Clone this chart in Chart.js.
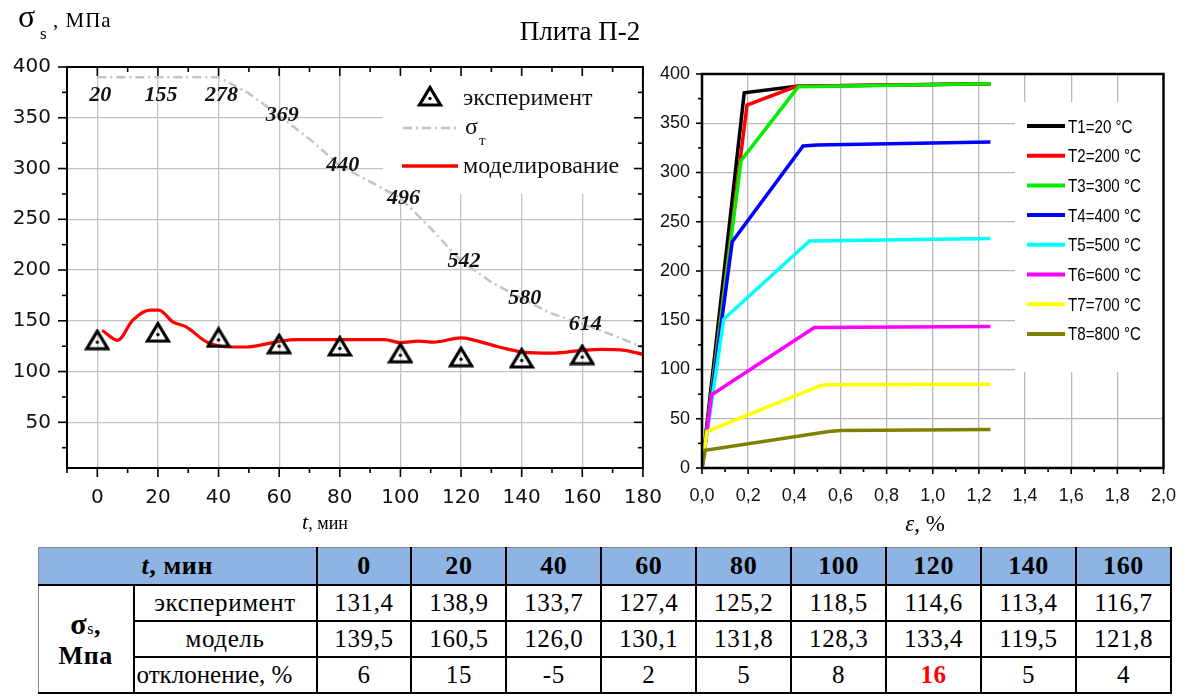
<!DOCTYPE html>
<html>
<head>
<meta charset="utf-8">
<script src="https://cdn.jsdelivr.net/npm/chart.js@4.4.0/dist/chart.umd.min.js"></script>
<style>
body { margin: 0; background: #fff; width: 1193px; height: 697px; overflow: hidden; position: relative; font-family: "Liberation Serif", "Times New Roman", serif; }
canvas { position: absolute; top: 0; }
#left { left: 0; }
#right { left: 640px; }
.txt { position: absolute; white-space: nowrap; line-height: 1; color: #000; }
#tbl { position: absolute; left: 38px; top: 547px; border-collapse: collapse; table-layout: fixed; width: 1134px; font-family: "Liberation Serif", serif; }
#tbl td { border: 2px solid #000; text-align: center; padding: 0; font-size: 25px; letter-spacing: 0.6px; height: 34px; }
#tbl tr.hd td { background: #8db4e2; font-weight: bold; font-size: 26px; height: 36px; border-top: 1px solid #888; }
#tbl td.thin { border-bottom: 1px solid #000; }
#tbl td.first { border-left: 1px solid #888; font-weight: bold; font-size: 26px; }
#tbl td.red { color: #f00; font-weight: bold; }
</style>
</head>
<body>
<canvas id="left" width="680" height="540"></canvas>
<canvas id="right" width="553" height="540"></canvas>

<div class="txt" style="left:18px;top:0px;font-size:32px;">σ</div>
<div class="txt" style="left:40px;top:25px;font-size:17px;">s</div>
<div class="txt" style="left:53px;top:10px;font-size:21px;letter-spacing:1px;">, МПа</div>
<div class="txt" style="left:430px;top:18px;width:300px;text-align:center;font-size:27px;">Плита П-2</div>
<div class="txt" style="left:225px;top:511px;width:200px;text-align:center;font-size:22px;"><i>t</i><span style="font-size:18px">, мин</span></div>
<div class="txt" style="left:825px;top:512px;width:200px;text-align:center;font-size:23px;"><i>ε</i>, %</div>

<table id="tbl"></table>

<script>
// left chart: sigma_s vs time
const timeTicks = [0, 20, 40, 60, 80, 100, 120, 140, 160];
const expStress = [131.4, 138.9, 133.7, 127.4, 125.2, 118.5, 114.6, 113.4, 116.7];
const modelStress = [139.5, 160.5, 126.0, 130.1, 131.8, 128.3, 133.4, 119.5, 121.8];
const deviation = [6, 15, -5, 2, 5, 8, 16, 5, 4];
const tempLabels = ['20', '155', '278', '369', '440', '496', '542', '580', '614'];

const sigmaTTime = [0, 10, 20, 30, 40, 50, 60, 70, 80, 90, 100, 110, 120, 130, 140, 150, 160, 170, 180];
const sigmaTStress = [390, 390, 390, 390, 390, 374, 352, 329, 303, 287, 271, 241, 209, 188, 172, 157, 147, 136, 124];

const modelCurveTime = [1.6, 6.7, 11.7, 17.4, 20.3, 24.9, 29.3, 36.2, 44.4, 49.4, 60, 65.8, 80, 94.7, 100, 106, 111, 120, 123.6, 132.5, 140.4, 150, 160, 166.4, 174, 180];
const modelCurveStress = [140.7, 130.8, 150.7, 160.6, 160.6, 149, 144, 129, 124.2, 124.2, 129.8, 131.5, 131.5, 131.5, 128.5, 130, 129, 133.1, 131.5, 124.2, 119.2, 118.2, 120.9, 121.9, 120.9, 116.9];

const timeAxisTicks = [0, 20, 40, 60, 80, 100, 120, 140, 160, 180];
const stressAxisTicks = [50, 100, 150, 200, 250, 300, 350, 400];

// right chart: stress-strain curves
const strainAxisTicks = [0, 0.2, 0.4, 0.6, 0.8, 1.0, 1.2, 1.4, 1.6, 1.8, 2.0];
const curveNames = ['T1=20 °C', 'T2=200 °C', 'T3=300 °C', 'T4=400 °C', 'T5=500 °C', 'T6=600 °C', 'T7=700 °C', 'T8=800 °C'];
const strainT1 = [0, 0.183, 0.41, 1.25];
const stressT1 = [0, 381, 387.5, 390];
const strainT2 = [0, 0.195, 0.41, 1.25];
const stressT2 = [0, 368.5, 387.5, 390];
const strainT3 = [0, 0.169, 0.417, 1.25];
const stressT3 = [0, 312, 387, 390];
const strainT4 = [0, 0.131, 0.438, 0.5, 1.25];
const stressT4 = [0, 229.8, 327, 328, 331];
const strainT5 = [0, 0.094, 0.466, 1.25];
const stressT5 = [0, 151, 230.5, 233];
const strainT6 = [0, 0.042, 0.487, 1.25];
const stressT6 = [0, 74.3, 142.6, 143.6];
const strainT7 = [0, 0.021, 0.515, 0.55, 1.25];
const stressT7 = [0, 37, 83.8, 84.5, 85];
const strainT8 = [0, 0.014, 0.55, 0.6, 1.25];
const stressT8 = [0, 17.9, 37, 38, 39];

const curveColors = ['#000000', '#ff0000', '#00ee00', '#0000ff', '#00ffff', '#ff00ff', '#ffff00', '#808000'];
const curveStrains = [strainT1, strainT2, strainT3, strainT4, strainT5, strainT6, strainT7, strainT8];
const curveStresses = [stressT1, stressT2, stressT3, stressT4, stressT5, stressT6, stressT7, stressT8];

const zip = (xs, ys) => xs.map((x, i) => ({ x: x, y: ys[i] }));

function makeTriangle() {
    const c = document.createElement('canvas');
    c.width = 26; c.height = 22;
    const g = c.getContext('2d');
    g.strokeStyle = '#000';
    g.lineWidth = 3.2;
    g.beginPath();
    g.moveTo(13, 2.5); g.lineTo(23.5, 20); g.lineTo(2.5, 20); g.closePath();
    g.stroke();
    g.fillStyle = '#000';
    g.beginPath(); g.arc(13, 13.5, 1.7, 0, Math.PI * 2); g.fill();
    return c;
}
const triangle = makeTriangle();

// frame + minor/major ticks
const frameTicks = {
    id: 'frameTicks',
    afterDraw(chart, args, o) {
        const { ctx, chartArea: a, scales } = chart;
        ctx.save();
        ctx.strokeStyle = '#000';
        ctx.lineWidth = o.frame;
        ctx.strokeRect(a.left, a.top, a.right - a.left, a.bottom - a.top);
        ctx.lineWidth = 1.6;
        const line = (x1, y1, x2, y2) => { ctx.beginPath(); ctx.moveTo(x1, y1); ctx.lineTo(x2, y2); ctx.stroke(); };
        const nx = Math.round((o.xMax - o.xFrom) / o.xStep);
        for (let i = 0; i <= nx; i++) {
            const v = o.xFrom + i * o.xStep;
            const px = scales.x.getPixelForValue(v);
            const len = (i % 2 === o.xMajorParity) ? o.major : o.minor;
            line(px, a.bottom, px, a.bottom + len);
            if (o.mirror) line(px, a.top, px, a.top + len);
        }
        const ny = Math.round((o.yMax - o.yFrom) / o.yStep);
        for (let i = 0; i <= ny; i++) {
            const v = o.yFrom + i * o.yStep;
            const py = scales.y.getPixelForValue(v);
            const len = (i % 2 === o.yMajorParity) ? o.major : o.minor;
            line(a.left - len, py, a.left, py);
            if (o.mirror) line(a.right - len, py, a.right, py);
        }
        ctx.restore();
    }
};

const leftDecor = {
    id: 'leftDecor',
    beforeDatasetsDraw(chart) {
        const { ctx, chartArea: a } = chart;
        ctx.save();
        ctx.fillStyle = '#fff';
        ctx.fillRect(383, a.top + 1, a.right - 384, 126);
        ctx.restore();
    },
    afterDatasetsDraw(chart) {
        const { ctx, scales } = chart;
        ctx.save();
        // temperature labels on the sigma_T curve
        ctx.font = 'italic bold 22px "Liberation Serif"';
        ctx.fillStyle = '#111';
        ctx.textAlign = 'center';
        ctx.textBaseline = 'middle';
        timeTicks.forEach((t, i) => {
            const v = sigmaTStress[sigmaTTime.indexOf(t)];
            const dy = v === sigmaTStress[0] ? 18 : 0;
            ctx.fillText(tempLabels[i], scales.x.getPixelForValue(t) + 3, scales.y.getPixelForValue(v) + dy);
        });
        // legend
        ctx.textAlign = 'left';
        ctx.textBaseline = 'alphabetic';
        ctx.drawImage(triangle, 430 - 13, 97 - 12);
        ctx.font = '24px "Liberation Serif"';
        ctx.fillText('эксперимент', 463, 105);
        ctx.strokeStyle = '#c4c4c4';
        ctx.lineWidth = 2.5;
        ctx.setLineDash([9, 4, 2, 4]);
        ctx.beginPath(); ctx.moveTo(403, 128); ctx.lineTo(457, 128); ctx.stroke();
        ctx.setLineDash([]);
        ctx.fillText('σ', 465, 134);
        ctx.font = '15px "Liberation Serif"';
        ctx.fillText('т', 479, 145);
        ctx.strokeStyle = '#ff0000';
        ctx.lineWidth = 3.5;
        ctx.beginPath(); ctx.moveTo(402, 166); ctx.lineTo(458, 166); ctx.stroke();
        ctx.font = '24px "Liberation Serif"';
        ctx.fillText('моделирование', 463, 173);
        ctx.restore();
    }
};

const rightDecor = {
    id: 'rightDecor',
    beforeDatasetsDraw(chart) {
        const { ctx } = chart;
        ctx.save();
        ctx.fillStyle = '#fff';
        ctx.fillRect(375, 102, 147, 270);
        ctx.restore();
    },
    afterDatasetsDraw(chart) {
        const { ctx } = chart;
        ctx.save();
        curveNames.forEach((name, i) => {
            const y = 126 + i * 29.7;
            ctx.strokeStyle = curveColors[i];
            ctx.lineWidth = 4;
            ctx.beginPath(); ctx.moveTo(387, y); ctx.lineTo(425, y); ctx.stroke();
            ctx.save();
            ctx.translate(428, y + 6.5);
            ctx.scale(0.84, 1);
            ctx.fillStyle = '#000';
            ctx.font = '18px "Liberation Sans"';
            ctx.fillText(name, 0, 0);
            ctx.restore();
        });
        ctx.restore();
    }
};

const gridColor = '#c2c2c2';

new Chart(document.getElementById('left'), {
    type: 'scatter',
    data: {
        datasets: [
            {
                label: 'эксперимент',
                data: zip(timeTicks, expStress),
                pointStyle: triangle,
                pointRadius: 10,
                showLine: false,
                order: 0
            },
            {
                label: 'моделирование',
                data: zip(modelCurveTime, modelCurveStress),
                showLine: true,
                borderColor: '#ff0000',
                borderWidth: 3.2,
                pointRadius: 0,
                cubicInterpolationMode: 'monotone',
                order: 1
            },
            {
                label: 'σт',
                data: zip(sigmaTTime, sigmaTStress),
                showLine: true,
                borderColor: '#c4c4c4',
                borderWidth: 2.5,
                borderDash: [9, 4, 2, 4],
                pointRadius: 0,
                order: 2
            }
        ]
    },
    options: {
        responsive: false,
        devicePixelRatio: 1,
        animation: false,
        layout: { padding: { top: 67, right: 35, left: 0, bottom: 0 } },
        plugins: {
            legend: { display: false },
            tooltip: { enabled: false },
            frameTicks: { frame: 2, xFrom: -10, xMax: 180, xStep: 10, xMajorParity: 1, yFrom: 25, yMax: 400, yStep: 25, yMajorParity: 1, major: 9, minor: 5, mirror: true }
        },
        scales: {
            x: {
                type: 'linear', min: -10, max: 180,
                afterBuildTicks: s => { s.ticks = timeAxisTicks.map(v => ({ value: v })); },
                afterFit: s => { s.height = 72; },
                border: { display: false },
                grid: { drawTicks: false, color: c => c.tick && c.tick.value === 180 ? 'rgba(0,0,0,0)' : gridColor, lineWidth: 1.3 },
                ticks: { padding: 18, color: '#111', font: { family: 'DejaVu Sans', size: 20 }, maxRotation: 0, autoSkip: false }
            },
            y: {
                type: 'linear', min: 5, max: 400,
                afterBuildTicks: s => { s.ticks = stressAxisTicks.map(v => ({ value: v })); },
                afterFit: s => { s.width = 67; },
                border: { display: false },
                grid: { drawTicks: false, color: c => c.tick && c.tick.value === 400 ? 'rgba(0,0,0,0)' : gridColor, lineWidth: 1.3 },
                ticks: { padding: 16, color: '#111', font: { family: 'DejaVu Sans', size: 20 } }
            }
        }
    },
    plugins: [frameTicks, leftDecor]
});

new Chart(document.getElementById('right'), {
    type: 'scatter',
    data: {
        datasets: curveNames.map((name, i) => ({
            label: name,
            data: zip(curveStrains[i], curveStresses[i]),
            showLine: true,
            borderColor: curveColors[i],
            borderWidth: 3.5,
            pointRadius: 0,
            order: curveNames.length - i
        }))
    },
    options: {
        responsive: false,
        devicePixelRatio: 1,
        animation: false,
        layout: { padding: { top: 74, right: 21, left: 0, bottom: 0 } },
        plugins: {
            legend: { display: false },
            tooltip: { enabled: false },
            frameTicks: { frame: 2.5, xFrom: 0, xMax: 2, xStep: 0.1, xMajorParity: 0, yFrom: 0, yMax: 400, yStep: 25, yMajorParity: 0, major: 6, minor: 4, mirror: false }
        },
        scales: {
            x: {
                type: 'linear', min: 0, max: 2,
                afterBuildTicks: s => { s.ticks = strainAxisTicks.map(v => ({ value: v })); },
                afterFit: s => { s.height = 72; },
                border: { display: false },
                grid: { drawTicks: false, color: c => c.tick && (c.tick.value === 0 || c.tick.value === 2) ? 'rgba(0,0,0,0)' : '#b8b8b8', lineWidth: 1.3 },
                ticks: { padding: 17, color: '#111', font: { family: 'Liberation Sans', size: 18 }, maxRotation: 0, autoSkip: false, callback: v => v.toFixed(1).replace('.', ',') }
            },
            y: {
                type: 'linear', min: 0, max: 400,
                ticks: { stepSize: 50, padding: 12, color: '#111', font: { family: 'Liberation Sans', size: 18 } },
                afterFit: s => { s.width = 62; },
                border: { display: false },
                grid: { drawTicks: false, color: c => c.tick && (c.tick.value === 0 || c.tick.value === 400) ? 'rgba(0,0,0,0)' : '#b8b8b8', lineWidth: 1.3 }
            }
        }
    },
    plugins: [frameTicks, rightDecor]
});

// table below the charts
const fmt = v => v.toFixed(1).replace('.', ',');
let html = '<colgroup><col style="width:95px"><col style="width:183px">' + timeTicks.map(() => '<col>').join('') + '</colgroup>';
html += '<tr class="hd"><td colspan="2" class="first"><i>t</i>, мин</td>' + timeTicks.map(t => '<td>' + t + '</td>').join('') + '</tr>';
html += '<tr><td rowspan="3" class="first"><span style="font-size:30px">σ</span><span style="font-size:16px;font-weight:normal">s</span>,<br>Мпа</td><td class="thin">эксперимент</td>' + expStress.map(v => '<td class="thin">' + fmt(v) + '</td>').join('') + '</tr>';
html += '<tr><td>модель</td>' + modelStress.map(v => '<td>' + fmt(v) + '</td>').join('') + '</tr>';
html += '<tr><td style="text-align:left;padding-left:2px;letter-spacing:0">отклонение, %</td>' + deviation.map(v => '<td' + (v === Math.max(...deviation) ? ' class="red"' : '') + '>' + v + '</td>').join('') + '</tr>';
document.getElementById('tbl').innerHTML = html;
</script>
</body>
</html>
